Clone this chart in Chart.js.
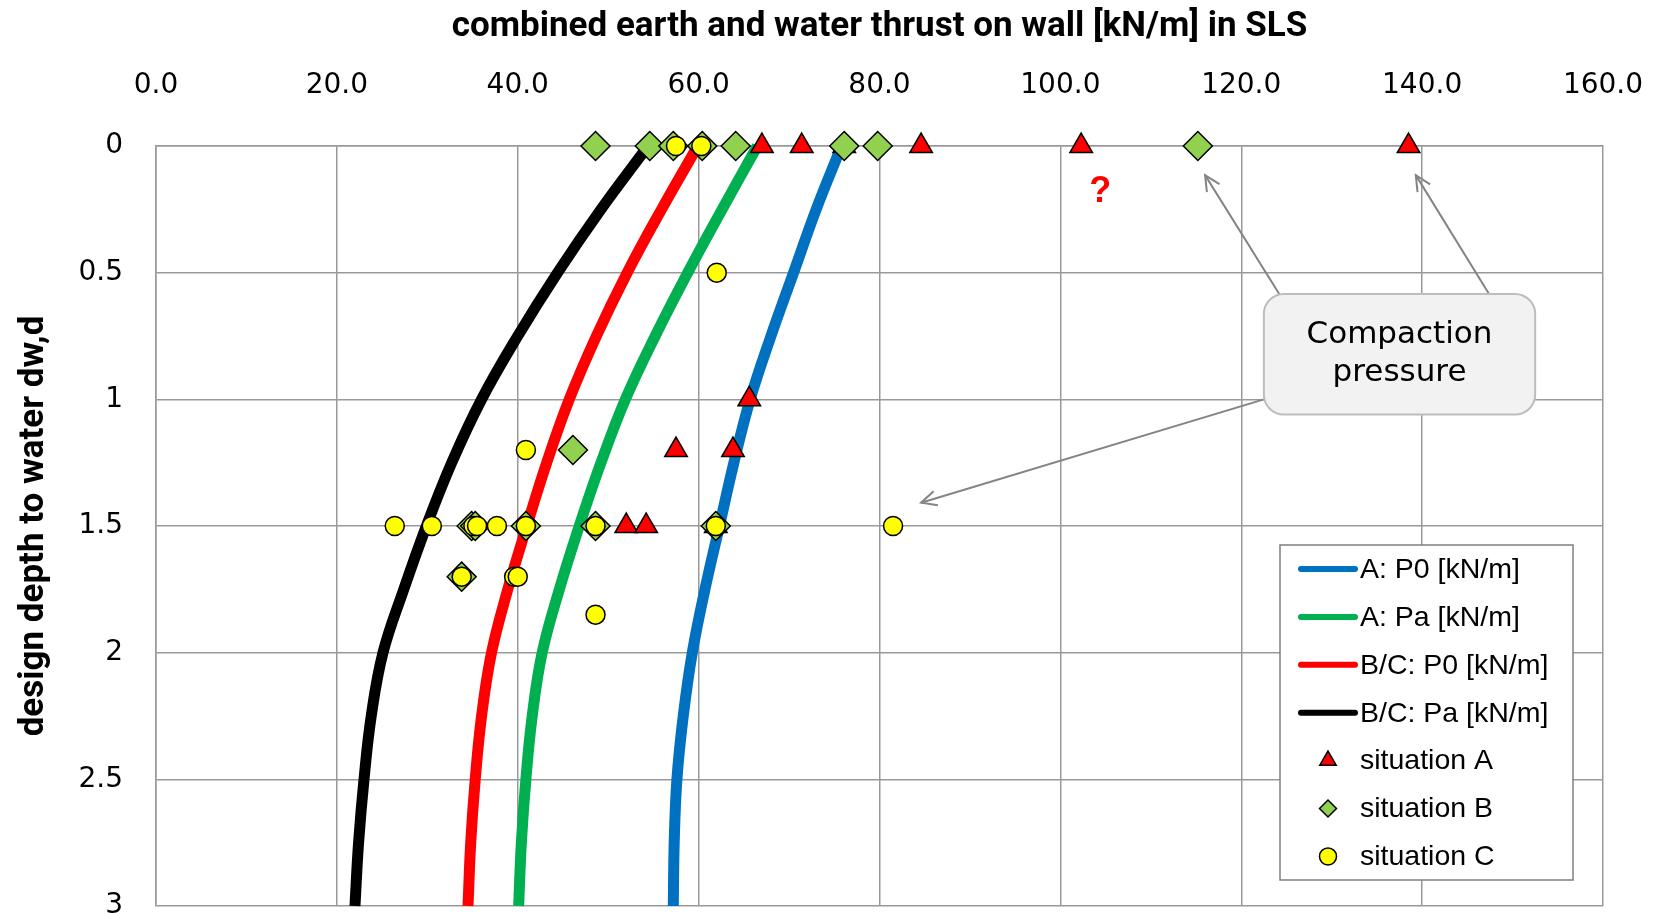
<!DOCTYPE html>
<html>
<head>
<meta charset="utf-8">
<title>combined earth and water thrust on wall</title>
<script src="https://cdn.jsdelivr.net/npm/chart.js@4.4.1/dist/chart.umd.min.js"></script>
<style>
  html, body { margin: 0; padding: 0; background: #fff; }
  #wrap { width: 1661px; height: 913px; position: relative; }
</style>
</head>
<body>
<div id="wrap"><canvas id="chart"></canvas></div>
<script>
// design depth to water dw,d [m] for the calculated curves
const depths = [0, 0.25, 0.5, 0.75, 1.0, 1.25, 1.5, 1.75, 2.0, 2.25, 2.5, 2.75, 3.0];
// calculated thrust [kN/m]
const aP0  = [75.8, 73.0, 70.5, 68.0, 65.7, 63.9, 62.3, 60.7, 59.3, 58.3, 57.6, 57.3, 57.2];
const aPa  = [66.5, 62.6, 58.8, 55.2, 51.9, 49.2, 46.8, 44.6, 42.7, 41.6, 40.9, 40.4, 40.1];
const bcP0 = [59.9, 55.9, 52.1, 48.7, 45.7, 43.2, 41.0, 38.9, 37.1, 36.0, 35.3, 34.8, 34.5];
const bcPa = [54.4, 49.2, 44.4, 40.0, 36.0, 32.7, 29.9, 27.4, 25.1, 23.8, 23.0, 22.4, 22.0];

// measured situations (thrust, depth)
const sitA_x = [67.0, 71.4, 76.1, 84.6, 102.3, 138.5, 65.6, 57.5, 63.8, 52.0, 54.2, 61.9];
const sitA_d = [0, 0, 0, 0, 0, 0, 1.0, 1.2, 1.2, 1.5, 1.5, 1.5];
const sitB_x = [48.6, 54.6, 57.2, 60.4, 64.1, 76.1, 79.8, 115.2, 46.1, 34.9, 35.3, 40.9, 48.6, 61.9, 33.8];
const sitB_d = [0, 0, 0, 0, 0, 0, 0, 0, 1.2, 1.5, 1.5, 1.5, 1.5, 1.5, 1.7];
const sitC_x = [57.5, 60.3, 62.0, 40.9, 26.4, 30.5, 35.1, 35.5, 37.7, 40.9, 48.6, 61.9, 81.5, 33.8, 39.6, 40.0, 48.6];
const sitC_d = [0, 0, 0.5, 1.2, 1.5, 1.5, 1.5, 1.5, 1.5, 1.5, 1.5, 1.5, 1.5, 1.7, 1.7, 1.7, 1.85];

// axis ticks
const xTicks = [0, 20, 40, 60, 80, 100, 120, 140, 160];
const yTicks = [0, 0.5, 1, 1.5, 2, 2.5, 3];

// annotations, in data units
const calloutBox = { x0: 122.5, x1: 152.5, d0: 0.584, d1: 1.06 };
const calloutLines = ['Compaction', 'pressure'];
const arrows = [
  { from: [124.2, 0.584], to: [116.0, 0.115] },
  { from: [147.4, 0.584], to: [139.3, 0.115] },
  { from: [122.5, 1.0], to: [84.6, 1.408] }
];
const questionMark = [104.4, 0.18];

const pts = (xs, ds) => xs.map((x, i) => ({ x: x, y: ds[i] }));

const curve = (label, values, color) => ({
  type: 'line',
  label: label,
  data: pts(values, depths),
  showLine: true,
  borderColor: color,
  backgroundColor: color,
  borderWidth: 11,
  pointRadius: 0,
  tension: 0.4,
  fill: false,
  clip: false,
  order: 4
});

const markers = (label, xs, ds, style, radius, color, order) => ({
  type: 'scatter',
  label: label,
  data: pts(xs, ds),
  pointStyle: style,
  pointRadius: radius,
  pointHoverRadius: radius,
  backgroundColor: color,
  borderColor: '#000000',
  borderWidth: 1.5,
  clip: false,
  order: order
});

const overlay = {
  id: 'overlay',
  afterDatasetsDraw(chart) {
    const ctx = chart.ctx;
    const sx = chart.scales.x, sy = chart.scales.y;
    const px = v => sx.getPixelForValue(v);
    const py = v => sy.getPixelForValue(v);
    ctx.save();

    // arrows
    ctx.strokeStyle = '#848484';
    ctx.lineWidth = 2;
    arrows.forEach(a => {
      const x0 = px(a.from[0]), y0 = py(a.from[1]);
      const x1 = px(a.to[0]), y1 = py(a.to[1]);
      const ang = Math.atan2(y1 - y0, x1 - x0);
      ctx.beginPath();
      ctx.moveTo(x0, y0);
      ctx.lineTo(x1, y1);
      ctx.stroke();
      const len = 17, spread = 0.45;
      ctx.beginPath();
      ctx.moveTo(x1 - len * Math.cos(ang - spread), y1 - len * Math.sin(ang - spread));
      ctx.lineTo(x1, y1);
      ctx.lineTo(x1 - len * Math.cos(ang + spread), y1 - len * Math.sin(ang + spread));
      ctx.stroke();
    });

    // callout box
    const bx0 = px(calloutBox.x0), bx1 = px(calloutBox.x1);
    const by0 = py(calloutBox.d0), by1 = py(calloutBox.d1);
    const r = 20;
    ctx.beginPath();
    ctx.moveTo(bx0 + r, by0);
    ctx.arcTo(bx1, by0, bx1, by1, r);
    ctx.arcTo(bx1, by1, bx0, by1, r);
    ctx.arcTo(bx0, by1, bx0, by0, r);
    ctx.arcTo(bx0, by0, bx1, by0, r);
    ctx.closePath();
    ctx.fillStyle = '#f2f2f2';
    ctx.fill();
    ctx.strokeStyle = '#bdbdbd';
    ctx.lineWidth = 2;
    ctx.stroke();
    ctx.fillStyle = '#000000';
    ctx.font = '31px "DejaVu Sans"';
    ctx.textAlign = 'center';
    ctx.textBaseline = 'middle';
    const cx = (bx0 + bx1) / 2, cy = (by0 + by1) / 2;
    ctx.fillText(calloutLines[0], cx, cy - 19);
    ctx.fillText(calloutLines[1], cx, cy + 19);

    // question mark
    ctx.fillStyle = '#ff0000';
    ctx.font = 'bold 36px "Liberation Sans"';
    ctx.fillText('?', px(questionMark[0]), py(questionMark[1]));
    ctx.restore();
  },
  afterDraw(chart) {
    const ctx = chart.ctx;
    const area = chart.chartArea;
    const w = 293, h = 335;
    const lx = area.right - 30 - w, ly = area.bottom - 26 - h;
    ctx.save();
    ctx.fillStyle = '#ffffff';
    ctx.fillRect(lx, ly, w, h);
    ctx.strokeStyle = '#7f7f7f';
    ctx.lineWidth = 1.5;
    ctx.strokeRect(lx, ly, w, h);
    ctx.font = '28.5px "Liberation Sans"';
    ctx.textAlign = 'left';
    ctx.textBaseline = 'middle';
    chart.data.datasets.forEach((ds, i) => {
      const y = ly + 24 + i * 47.9;
      if (ds.type === 'line') {
        ctx.strokeStyle = ds.borderColor;
        ctx.lineWidth = 6;
        ctx.lineCap = 'round';
        ctx.beginPath();
        ctx.moveTo(lx + 21, y);
        ctx.lineTo(lx + 75, y);
        ctx.stroke();
      } else {
        ctx.fillStyle = ds.backgroundColor;
        ctx.strokeStyle = '#000000';
        ctx.lineWidth = 1.5;
        const rad = ds.pointStyle === 'triangle' ? 9.5 : 8.5;
        Chart.helpers.drawPoint(ctx, { pointStyle: ds.pointStyle, radius: rad, borderWidth: 1.5, rotation: 0 }, lx + 48, y);
      }
      ctx.fillStyle = '#000000';
      ctx.fillText(ds.label, lx + 80, y + 1);
    });
    ctx.restore();
  }
};

new Chart(document.getElementById('chart'), {
  type: 'scatter',
  data: {
    datasets: [
      curve('A: P0 [kN/m]', aP0, '#0070c0'),
      curve('A: Pa [kN/m]', aPa, '#00b050'),
      curve('B/C: P0 [kN/m]', bcP0, '#ff0000'),
      curve('B/C: Pa [kN/m]', bcPa, '#000000'),
      markers('situation A', sitA_x, sitA_d, 'triangle', 13, '#ff0000', 3),
      markers('situation B', sitB_x, sitB_d, 'rectRot', 14.5, '#92d050', 2),
      markers('situation C', sitC_x, sitC_d, 'circle', 9.5, '#ffff00', 1)
    ]
  },
  options: {
    responsive: true,
    maintainAspectRatio: false,
    animation: false,
    layout: { autoPadding: false, padding: { left: 0, top: 0, right: 58, bottom: 7 } },
    plugins: {
      legend: { display: false },
      tooltip: { enabled: false }
    },
    scales: {
      x: {
        type: 'linear',
        position: 'top',
        min: 0,
        max: 160,
        afterBuildTicks: s => { s.ticks = xTicks.map(v => ({ value: v })); },
        afterFit: s => { s.height = 146; s.paddingLeft = 0; s.paddingRight = 0; },
        ticks: {
          color: '#000000',
          font: { family: 'DejaVu Sans', size: 28 },
          padding: 43,
          maxRotation: 0,
          callback: v => v.toFixed(1)
        },
        grid: { color: '#999999', lineWidth: 1.5, drawTicks: false },
        border: { color: '#999999', width: 1.5 },
        title: {
          display: true,
          text: 'combined earth and water thrust on wall [kN/m] in SLS',
          color: '#000000',
          font: { family: 'Roboto', size: 35, weight: 'bold' },
          padding: { top: 6, bottom: 0 }
        }
      },
      y: {
        type: 'linear',
        reverse: true,
        min: 0,
        max: 3,
        afterBuildTicks: s => { s.ticks = yTicks.map(v => ({ value: v })); },
        afterFit: s => { s.width = 156; s.paddingTop = 0; s.paddingBottom = 0; },
        ticks: {
          color: '#000000',
          font: { family: 'DejaVu Sans', size: 28, lineHeight: 0.5 },
          padding: 33,
          callback: v => String(v)
        },
        grid: { color: '#999999', lineWidth: 1.5, drawTicks: false },
        border: { color: '#999999', width: 1.5 },
        title: {
          display: true,
          text: 'design depth to water dw,d',
          color: '#000000',
          font: { family: 'Roboto', size: 35, weight: 'bold' },
          padding: { top: 13, bottom: 0 }
        }
      }
    }
  },
  plugins: [overlay]
});
</script>
</body>
</html>
